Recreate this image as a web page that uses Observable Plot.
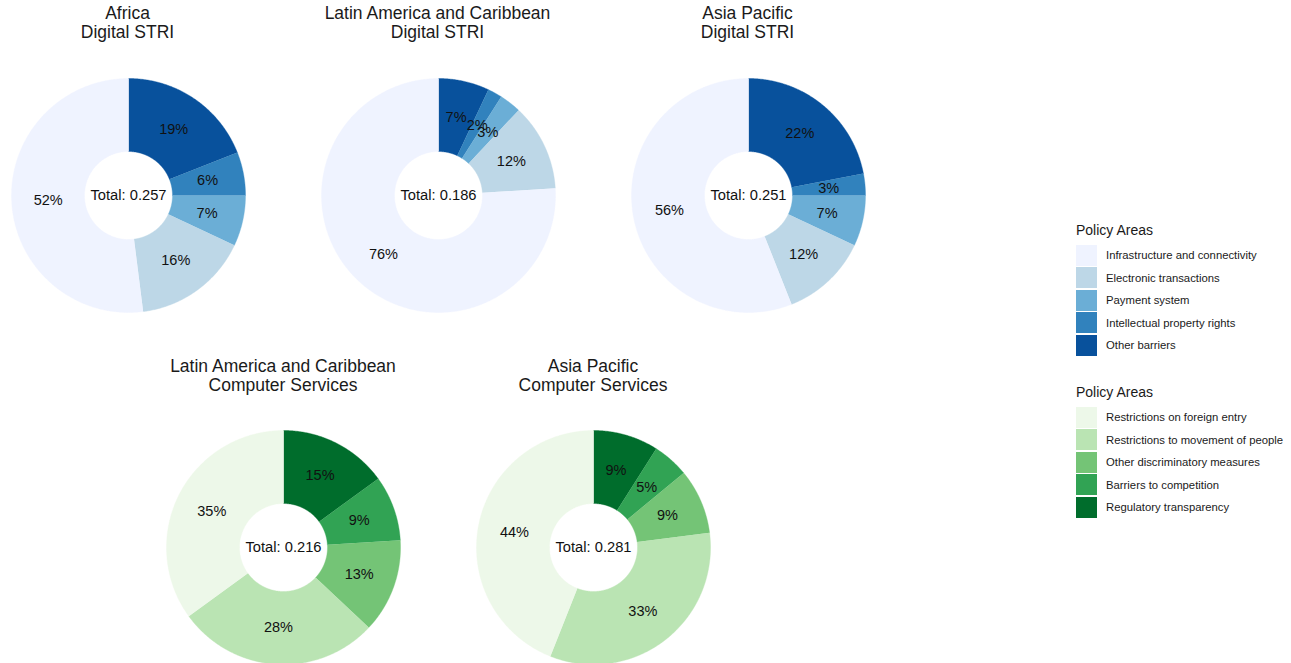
<!DOCTYPE html>
<html>
<head>
<meta charset="utf-8">
<script src="https://cdn.jsdelivr.net/npm/d3@7"></script>
<script src="https://cdn.jsdelivr.net/npm/@observablehq/plot@0.6"></script>
<style>
  body { margin: 0; background: #fff; font-family: "Liberation Sans", Arial, sans-serif; color: #1a1a1a; }
  #root { position: relative; width: 1291px; height: 663px; overflow: hidden; }
  .title { position: absolute; width: 320px; text-align: center; font-size: 17.5px; line-height: 18.5px; color: #1a1a1a; }
  .chart { position: absolute; width: 240px; height: 240px; }
  .legend { position: absolute; left: 1076px; }
  .legend .lt { font-size: 14px; line-height: 16px; height: 22px; color: #1a1a1a; }
  .legend .row { display: flex; align-items: center; height: 22.5px; }
  .legend .sw { width: 21px; height: 21px; margin-right: 9px; }
  .legend .lab { font-size: 11.3px; color: #1a1a1a; }
</style>
</head>
<body>
<div id="root"></div>
<script>
// ---- Data ----
const blueAreas = ["Infrastructure and connectivity", "Electronic transactions", "Payment system", "Intellectual property rights", "Other barriers"];
const blueColors = ["#eff3ff", "#bdd7e7", "#6baed6", "#3182bd", "#08519c"];
const greenAreas = ["Restrictions on foreign entry", "Restrictions to movement of people", "Other discriminatory measures", "Barriers to competition", "Regulatory transparency"];
const greenColors = ["#edf8e9", "#bae4b3", "#74c476", "#31a354", "#006d2c"];

// shares (%) in legend order
const africaDigital = [52, 16, 7, 6, 19];
const lacDigital = [76, 12, 3, 2, 7];
const asiaDigital = [56, 12, 7, 3, 22];
const lacComputer = [35, 28, 13, 9, 15];
const asiaComputer = [44, 33, 9, 5, 9];

const totals = [0.257, 0.186, 0.251, 0.216, 0.281];
const titles = [
  ["Africa", "Digital STRI"],
  ["Latin America and Caribbean", "Digital STRI"],
  ["Asia Pacific", "Digital STRI"],
  ["Latin America and Caribbean", "Computer Services"],
  ["Asia Pacific", "Computer Services"]
];

// ---- Layout ----
const root = document.getElementById("root");
const panels = [
  {shares: africaDigital, areas: blueAreas, colors: blueColors, cx: 127.5, cy: 194.5, ty: 4},
  {shares: lacDigital, areas: blueAreas, colors: blueColors, cx: 437.5, cy: 194.5, ty: 4},
  {shares: asiaDigital, areas: blueAreas, colors: blueColors, cx: 747.5, cy: 194.5, ty: 4},
  {shares: lacComputer, areas: greenAreas, colors: greenColors, cx: 283, cy: 546.5, ty: 357},
  {shares: asiaComputer, areas: greenAreas, colors: greenColors, cx: 593, cy: 546.5, ty: 357}
];

const INNER = 0.376;
const LABEL_R = (1 + INNER) / 2;

function donut(shares, areas, colors, total) {
  const sum = d3.sum(shares);
  const order = d3.range(areas.length).reverse(); // clockwise from 12 o'clock: last legend item first
  const pts = [];
  const labels = [];
  let acc = 0;
  for (const i of order) {
    const a0 = acc / sum * 2 * Math.PI;
    acc += shares[i];
    const a1 = acc / sum * 2 * Math.PI;
    const n = Math.max(2, Math.ceil((a1 - a0) / (Math.PI / 360)));
    for (let k = 0; k <= n; k++) {
      const a = a0 + (a1 - a0) * k / n;
      pts.push({area: areas[i], x: Math.sin(a), y: Math.cos(a)});
    }
    for (let k = n; k >= 0; k--) {
      const a = a0 + (a1 - a0) * k / n;
      pts.push({area: areas[i], x: INNER * Math.sin(a), y: INNER * Math.cos(a)});
    }
    const m = (a0 + a1) / 2;
    labels.push({x: LABEL_R * Math.sin(m), y: LABEL_R * Math.cos(m), text: `${shares[i]}%`});
  }
  return Plot.plot({
    width: 240,
    height: 240,
    margin: 3,
    x: {domain: [-1, 1], axis: null},
    y: {domain: [-1, 1], axis: null},
    color: {domain: areas, range: colors},
    style: {fontFamily: "'Liberation Sans', Arial, sans-serif", background: "transparent", overflow: "visible"},
    marks: [
      Plot.line(pts, {x: "x", y: "y", z: "area", fill: "area", stroke: "area", strokeWidth: 0.4, curve: "linear"}),
      Plot.text(labels, {x: "x", y: "y", text: "text", fontSize: 14.5, fill: "#111"}),
      Plot.text([`Total: ${total}`], {x: [0], y: [0], text: d => d, fontSize: 14.7, fill: "#111"})
    ]
  });
}

panels.forEach((p, idx) => {
  const t = document.createElement("div");
  t.className = "title";
  t.style.left = (p.cx - 160) + "px";
  t.style.top = p.ty + "px";
  t.innerHTML = titles[idx].join("<br>");
  root.appendChild(t);

  const c = document.createElement("div");
  c.className = "chart";
  c.style.left = (p.cx - 120) + "px";
  c.style.top = (p.cy - 120) + "px";
  c.appendChild(donut(p.shares, p.areas, p.colors, totals[idx]));
  root.appendChild(c);
});

function legend(areas, colors, top) {
  const L = document.createElement("div");
  L.className = "legend";
  L.style.top = top + "px";
  const h = document.createElement("div");
  h.className = "lt";
  h.textContent = "Policy Areas";
  L.appendChild(h);
  areas.forEach((a, i) => {
    const r = document.createElement("div");
    r.className = "row";
    const s = document.createElement("div");
    s.className = "sw";
    s.style.background = colors[i];
    const l = document.createElement("div");
    l.className = "lab";
    l.textContent = a;
    r.appendChild(s);
    r.appendChild(l);
    L.appendChild(r);
  });
  root.appendChild(L);
}
legend(blueAreas, blueColors, 222);
legend(greenAreas, greenColors, 384);
</script>
</body>
</html>
